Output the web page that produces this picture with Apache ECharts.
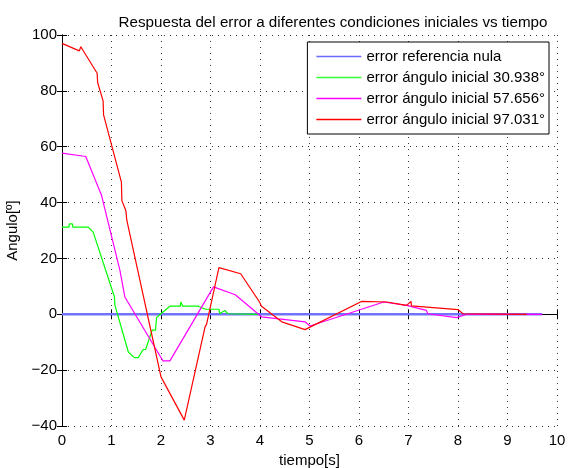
<!DOCTYPE html>
<html>
<head>
<meta charset="utf-8">
<script src="https://cdn.jsdelivr.net/npm/echarts@6/dist/echarts.min.js"></script>
<style>html,body{margin:0;padding:0;background:#fff}#c{width:569px;height:468px}</style>
</head>
<body>
<div id="c"></div>
<script>
const seriesNames = ['error referencia nula','error ángulo inicial 30.938°','error ángulo inicial 57.656°','error ángulo inicial 97.031°'];
const xTicks = [0,1,2,3,4,5,6,7,8,9,10];
const yTicks = [-40,-20,0,20,40,60,80,100];

const tBlue = [0, 9.7];
const yBlue = [0, 0];

const tGreen = [0, 0.14, 0.15, 0.21, 0.22, 0.53, 0.63, 1.06, 1.07, 1.34, 1.46, 1.54, 1.64, 1.69, 1.82, 1.89, 1.91, 1.98, 2.18, 2.39, 2.4, 2.43, 2.44, 2.75, 2.9, 3.17, 3.19, 3.29, 3.35, 3.97];
const yGreen = [31.2, 31.2, 32.4, 32.4, 31.2, 31.2, 29.4, 6.2, 3.2, -13.5, -15.5, -15.5, -12.6, -12.6, -5.7, -5.7, -1.2, -0.1, 2.9, 2.9, 4.4, 4.4, 2.9, 2.9, 1.8, 1.8, 0.2, 1.4, 0.2, 0];

const tMagenta = [0, 0.48, 0.8, 1.17, 1.27, 1.99, 2.03, 2.04, 2.18, 3.06, 3.5, 4.03, 4.91, 5.01, 6.5, 6.96, 7.36, 7.39, 7.97, 8.18, 9.7];
const yMagenta = [57.7, 56.5, 42.5, 15.7, 6.2, -15.2, -15.2, -16.7, -16.7, 9.8, 7.0, -0.9, -2.7, -4.2, 4.4, 3.2, 1.4, 0.2, -1.2, 0, 0];

const tRed = [0, 0.35, 0.38, 0.71, 0.72, 0.75, 0.83, 0.84, 1.2, 1.21, 1.29, 1.31, 2.0, 2.47, 2.89, 2.92, 3.17, 3.61, 3.99, 4.03, 4.44, 4.91, 6.05, 6.56, 6.96, 7.05, 7.06, 8.0, 8.1, 9.39];
const yRed = [97.0, 94.3, 95.8, 86.3, 83, 82.7, 76.4, 71.4, 47.3, 40.7, 37.1, 33.6, -22.4, -37.9, -4.5, -3.6, 16.7, 14.5, 4.4, 2.9, -2.7, -5.5, 4.6, 4.4, 3.2, 4.6, 3.0, 1.7, 0.2, 0];

const zip = (a, b) => a.map((v, i) => [v, b[i]]);
const FONT = 'Liberation Sans, Arial, Helvetica, sans-serif';
const FS = 15;

const chart = echarts.init(document.getElementById('c'), null, {renderer: 'canvas'});
const axisCommon = {
  axisLine: {show: true, lineStyle: {color: '#000', width: 1}},
  axisTick: {show: true, inside: true, length: 5, lineStyle: {color: '#000'}},
};
chart.setOption({
  animation: false,
  backgroundColor: '#fff',
  title: {
    text: 'Respuesta del error a diferentes condiciones iniciales vs tiempo',
    left: 328, top: 10, textAlign: 'center',
    textStyle: {fontFamily: FONT, fontSize: 15.2, fontWeight: 'normal', color: '#000'}
  },
  grid: {left: 62, right: 12, top: 35, bottom: 42, containLabel: false, outerBoundsMode: 'none'},
  legend: {
    orient: 'vertical', right: 20, top: 42,
    data: seriesNames,
    icon: 'rect', itemWidth: 45, itemHeight: 1.5, itemGap: 6,
    padding: [7, 4, 7, 9],
    borderColor: '#000', borderWidth: 1, backgroundColor: '#fff',
    textStyle: {fontFamily: FONT, fontSize: FS, color: '#000'},
    selectedMode: false
  },
  xAxis: [{
    type: 'value', min: 0, max: 10, interval: 1,
    name: 'tiempo[s]', nameLocation: 'middle', nameGap: 22,
    nameTextStyle: {fontFamily: FONT, fontSize: FS, color: '#000'},
    axisLabel: {fontFamily: FONT, fontSize: FS, color: '#000', margin: 7},
    splitLine: {show: true, lineStyle: {color: '#333', type: [1, 5], width: 1}},
    ...axisCommon
  }, {
    type: 'value', min: 0, max: 10, interval: 1, position: 'top',
    axisLabel: {show: false}, splitLine: {show: false},
    ...axisCommon
  }],
  yAxis: [{
    type: 'value', min: -40, max: 100, interval: 20,
    name: 'Angulo[º]', nameLocation: 'middle', nameGap: 36,
    nameTextStyle: {fontFamily: FONT, fontSize: FS, color: '#000'},
    axisLabel: {fontFamily: FONT, fontSize: FS, color: '#000', margin: 5,
      formatter: v => (v < 0 ? '\u2212' + Math.abs(v) : String(v))},
    splitLine: {show: true, lineStyle: {color: '#333', type: [1, 5], width: 1}},
    ...axisCommon
  }, {
    type: 'value', min: -40, max: 100, interval: 20, position: 'right',
    axisLabel: {show: false}, splitLine: {show: false},
    ...axisCommon
  }],
  series: [
    {name: seriesNames[0], type: 'line', data: zip(tBlue, yBlue), symbol: 'none', color: '#6a6aff',
     lineStyle: {width: 2.5, color: '#7272ff'}},
    {name: seriesNames[1], type: 'line', data: zip(tGreen, yGreen), symbol: 'none', color: '#33ff33',
     lineStyle: {width: 1.2, color: '#00ff00'}},
    {name: seriesNames[2], type: 'line', data: zip(tMagenta, yMagenta), symbol: 'none', color: '#ff00ff',
     lineStyle: {width: 1.2, color: '#ff00ff'}},
    {name: seriesNames[3], type: 'line', data: zip(tRed, yRed), symbol: 'none', color: '#ff0000',
     lineStyle: {width: 1.2, color: '#ff0000'}}
  ]
});
</script>
</body>
</html>
